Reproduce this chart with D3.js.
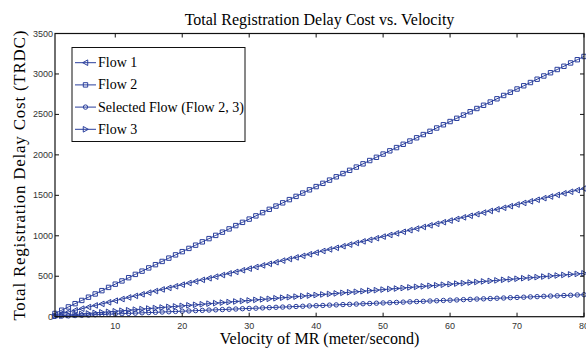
<!DOCTYPE html>
<html>
<head>
<meta charset="utf-8">
<script src="https://cdn.jsdelivr.net/npm/d3@7"></script>
<style>
  body { margin: 0; background: #fff; }
  svg { display: block; }
</style>
</head>
<body>
<svg id="chart" width="586" height="352"></svg>
<script>
// velocity values (meter/second)
const velocity = d3.range(1, 81);

// TRDC values, one per velocity step
const flow1 = [20, 40, 59, 79, 99, 119, 139, 158, 178, 198,
  218, 238, 257, 277, 297, 317, 337, 356, 376, 396,
  416, 436, 455, 475, 495, 515, 535, 554, 574, 594,
  614, 634, 653, 673, 693, 713, 733, 752, 772, 792,
  812, 832, 851, 871, 891, 911, 931, 950, 970, 990,
  1010, 1030, 1049, 1069, 1089, 1109, 1129, 1148, 1168, 1188,
  1208, 1228, 1247, 1267, 1287, 1307, 1327, 1346, 1366, 1386,
  1406, 1426, 1445, 1465, 1485, 1505, 1525, 1544, 1564, 1584];

const flow2 = [40, 80, 121, 161, 201, 241, 281, 322, 362, 402,
  442, 482, 523, 563, 603, 643, 683, 724, 764, 804,
  844, 884, 925, 965, 1005, 1045, 1085, 1126, 1166, 1206,
  1246, 1286, 1327, 1367, 1407, 1447, 1487, 1528, 1568, 1608,
  1648, 1688, 1729, 1769, 1809, 1849, 1889, 1930, 1970, 2010,
  2050, 2090, 2131, 2171, 2211, 2251, 2291, 2332, 2372, 2412,
  2452, 2492, 2533, 2573, 2613, 2653, 2693, 2734, 2774, 2814,
  2854, 2894, 2935, 2975, 3015, 3055, 3095, 3136, 3176, 3216];

const selectedFlow = [3, 7, 10, 14, 17, 20, 24, 27, 31, 34,
  37, 41, 44, 48, 51, 54, 58, 61, 65, 68,
  71, 75, 78, 82, 85, 88, 92, 95, 99, 102,
  105, 109, 112, 116, 119, 122, 126, 129, 133, 136,
  139, 143, 146, 150, 153, 156, 160, 163, 167, 170,
  173, 177, 180, 184, 187, 190, 194, 197, 201, 204,
  207, 211, 214, 218, 221, 224, 228, 231, 235, 238,
  241, 245, 248, 252, 255, 258, 262, 265, 269, 272];

const flow3 = [7, 13, 20, 27, 34, 40, 47, 54, 60, 67,
  74, 80, 87, 94, 101, 107, 114, 121, 127, 134,
  141, 147, 154, 161, 168, 174, 181, 188, 194, 201,
  208, 214, 221, 228, 235, 241, 248, 255, 261, 268,
  275, 281, 288, 295, 302, 308, 315, 322, 328, 335,
  342, 348, 355, 362, 369, 375, 382, 389, 395, 402,
  409, 415, 422, 429, 436, 442, 449, 456, 462, 469,
  476, 482, 489, 496, 503, 509, 516, 523, 529, 536];

const seriesNames = ["Flow 1", "Flow 2", "Selected Flow (Flow 2, 3)", "Flow 3"];
const seriesValues = [flow1, flow2, selectedFlow, flow3];
const markerKinds = ["left", "square", "circle", "right"];

const xTicks = [10, 20, 30, 40, 50, 60, 70, 80];
const yTicks = [0, 500, 1000, 1500, 2000, 2500, 3000, 3500];

const blue = "#2a3f9d";
const plotLeft = 55, plotRight = 584, plotTop = 33.5, plotBottom = 316.7;

const svg = d3.select("#chart");

const x = d3.scaleLinear().domain([1, 80]).range([plotLeft, plotRight]);
const y = d3.scaleLinear().domain([0, 3500]).range([plotBottom, plotTop]);

// marker path generator, centred on 0,0
function markerPath(kind, s) {
  if (kind === "left") return `M${-s},0L${s * 0.8},${-s}L${s * 0.8},${s}Z`;
  if (kind === "right") return `M${s},0L${-s * 0.8},${-s}L${-s * 0.8},${s}Z`;
  if (kind === "square") return `M${-s},${-s}H${s}V${s}H${-s}Z`;
  return d3.symbol(d3.symbolCircle, Math.PI * s * s)();
}

function markerSize(kind) {
  return kind === "square" || kind === "circle" ? 2.2 : 2.8;
}

// series
const line = d3.line().x((d, i) => x(velocity[i])).y(d => y(d));

seriesValues.forEach((vals, k) => {
  const g = svg.append("g");
  g.append("path")
    .attr("d", line(vals))
    .attr("fill", "none")
    .attr("stroke", blue)
    .attr("stroke-width", 1);
  g.selectAll("path.m")
    .data(vals)
    .join("path")
    .attr("class", "m")
    .attr("transform", (d, i) => `translate(${x(velocity[i])},${y(d)})`)
    .attr("d", markerPath(markerKinds[k], markerSize(markerKinds[k])))
    .attr("fill", "none")
    .attr("stroke", blue)
    .attr("stroke-width", 1);
});

// frame and ticks
const axisColor = "#111";
svg.append("rect")
  .attr("x", plotLeft).attr("y", plotTop)
  .attr("width", plotRight - plotLeft).attr("height", plotBottom - plotTop)
  .attr("fill", "none").attr("stroke", axisColor).attr("stroke-width", 1.2);

const tickLen = 4;
const tickFont = "Liberation Sans, Arial, sans-serif";

xTicks.forEach(t => {
  svg.append("line").attr("x1", x(t)).attr("x2", x(t))
    .attr("y1", plotBottom).attr("y2", plotBottom - tickLen)
    .attr("stroke", axisColor);
  svg.append("line").attr("x1", x(t)).attr("x2", x(t))
    .attr("y1", plotTop).attr("y2", plotTop + tickLen)
    .attr("stroke", axisColor);
  svg.append("text")
    .attr("x", x(t)).attr("y", plotBottom + 12)
    .attr("text-anchor", "middle")
    .attr("font-family", tickFont).attr("font-size", 9)
    .attr("fill", "#333")
    .text(t);
});

yTicks.forEach(t => {
  svg.append("line").attr("x1", plotLeft).attr("x2", plotLeft + tickLen)
    .attr("y1", y(t)).attr("y2", y(t))
    .attr("stroke", axisColor);
  svg.append("line").attr("x1", plotRight).attr("x2", plotRight - tickLen)
    .attr("y1", y(t)).attr("y2", y(t))
    .attr("stroke", axisColor);
  svg.append("text")
    .attr("x", plotLeft - 2).attr("y", y(t) + 3)
    .attr("text-anchor", "end")
    .attr("font-family", tickFont).attr("font-size", 9)
    .attr("fill", "#333")
    .text(t);
});

// titles
const serif = "Liberation Serif, Times New Roman, serif";
svg.append("text")
  .attr("x", (plotLeft + plotRight) / 2).attr("y", 25)
  .attr("text-anchor", "middle")
  .attr("font-family", serif).attr("font-size", 16)
  .text("Total Registration Delay Cost vs. Velocity");

svg.append("text")
  .attr("x", (plotLeft + plotRight) / 2).attr("y", 344)
  .attr("text-anchor", "middle")
  .attr("font-family", serif).attr("font-size", 16)
  .text("Velocity of MR (meter/second)");

svg.append("text")
  .attr("transform", `translate(25,${(plotTop + plotBottom) / 2 + 0.5}) rotate(-90)`)
  .attr("text-anchor", "middle")
  .attr("font-family", serif).attr("font-size", 17)
  .attr("textLength", 290).attr("lengthAdjust", "spacing")
  .text("Total Registration Delay Cost (TRDC)");

// legend
const legend = svg.append("g");
legend.append("rect")
  .attr("x", 72).attr("y", 47.5)
  .attr("width", 173).attr("height", 94)
  .attr("fill", "#fff").attr("stroke", axisColor).attr("stroke-width", 1);

seriesNames.forEach((name, k) => {
  const ly = 62.7 + k * 22.2;
  legend.append("line")
    .attr("x1", 75).attr("x2", 96).attr("y1", ly).attr("y2", ly)
    .attr("stroke", blue).attr("stroke-width", 1);
  legend.append("path")
    .attr("transform", `translate(85.5,${ly})`)
    .attr("d", markerPath(markerKinds[k], markerSize(markerKinds[k])))
    .attr("fill", "none").attr("stroke", blue).attr("stroke-width", 1);
  legend.append("text")
    .attr("x", 98).attr("y", ly + 4.5)
    .attr("font-family", serif).attr("font-size", 14)
    .text(name);
});
</script>
</body>
</html>
